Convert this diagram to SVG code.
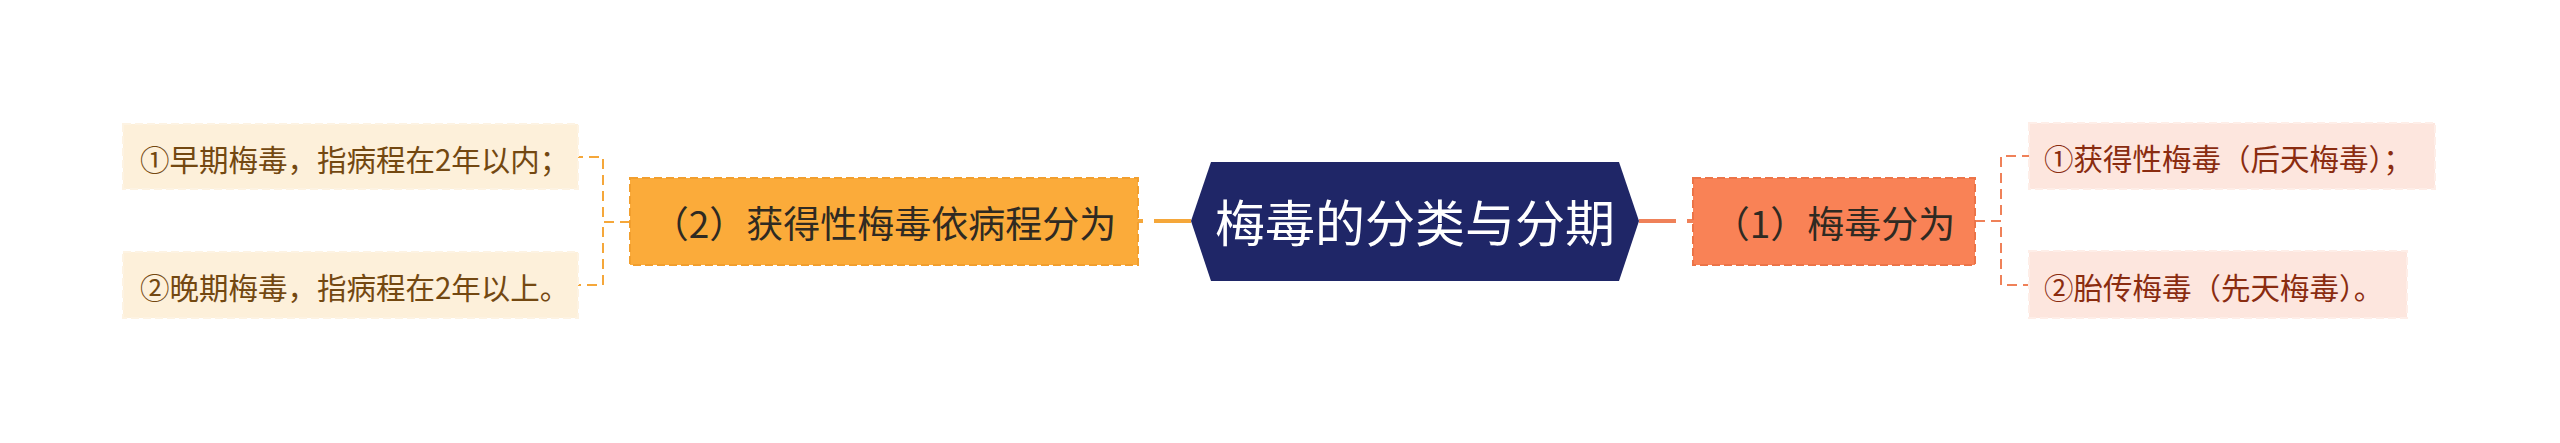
<svg xmlns="http://www.w3.org/2000/svg" width="2560" height="443" viewBox="0 0 2560 443">
<style>
text{font-family:"Noto Sans CJK SC","Noto Sans",sans-serif;dominant-baseline:central}
.main{font-size:50px;fill:#ffffff;text-anchor:middle}
.sub{font-size:37px;fill:#2f2a22;text-anchor:middle}
.leafL{font-size:29.5px;fill:#734811}
.leafR{font-size:29.5px;fill:#8a2c10}
.boxL{fill:#fbab3a;stroke:#f29f2e;stroke-width:2;stroke-dasharray:8 4}
.boxR{fill:#f98256;stroke:#ec7448;stroke-width:2;stroke-dasharray:8 4}
.lfL{fill:#fdf0da;stroke:#fdf3e3;stroke-width:2;stroke-dasharray:8 4}
.lfR{fill:#fde6de;stroke:#feeee8;stroke-width:2;stroke-dasharray:8 4}
.cL{fill:none;stroke:#f5a73a;stroke-width:2;stroke-dasharray:10 6}
.cR{fill:none;stroke:#ef8159;stroke-width:2;stroke-dasharray:10 6}
.mL{fill:none;stroke:#f5a73a;stroke-width:4;stroke-dasharray:37 11 6 1000}
.mR{fill:none;stroke:#ef8159;stroke-width:4;stroke-dasharray:37 11 6 1000}
</style>
<rect width="2560" height="443" fill="#ffffff"/>
<g id="connectors">
<path class="mL" d="M1191 221 L1138 221"/>
<path class="mR" d="M1639 221 L1693 221"/>
<path class="cL" d="M630 222 L603 222 L603 157 L577 157"/>
<path class="cL" d="M630 222 L603 222 L603 285 L577 285"/>
<path class="cR" d="M1975 221 L2001 221 L2001 156 L2029 156"/>
<path class="cR" d="M1975 221 L2001 221 L2001 285 L2029 285"/>
</g>
<g id="root">
<polygon points="1191,221 1211,162 1619,162 1639,221 1619,281 1211,281" fill="#1f2667"/>
<text class="main" x="1415" y="220">梅毒的分类与分期</text>
</g>
<g id="n-left">
<rect class="boxL" x="630" y="178" width="508" height="87"/>
<text class="sub" x="884" y="222">（2）获得性梅毒依病程分为</text>
</g>
<g id="n-right">
<rect class="boxR" x="1693" y="178" width="282" height="87"/>
<text class="sub" x="1834" y="222">（1）梅毒分为</text>
</g>
<g id="leaf-l1">
<rect class="lfL" x="123" y="124" width="455" height="65"/>
<text class="leafL" x="140" y="158">①早期梅毒，指病程在2年以内；</text>
</g>
<g id="leaf-l2">
<rect class="lfL" x="123" y="252" width="455" height="66"/>
<text class="leafL" x="140" y="286">②晚期梅毒，指病程在2年以上。</text>
</g>
<g id="leaf-r1">
<rect class="lfR" x="2029" y="123" width="406" height="66"/>
<text class="leafR" x="2044" y="157">①获得性梅毒（后天梅毒）；</text>
</g>
<g id="leaf-r2">
<rect class="lfR" x="2029" y="251" width="378" height="67"/>
<text class="leafR" x="2044" y="286">②胎传梅毒（先天梅毒）。</text>
</g>
</svg>
